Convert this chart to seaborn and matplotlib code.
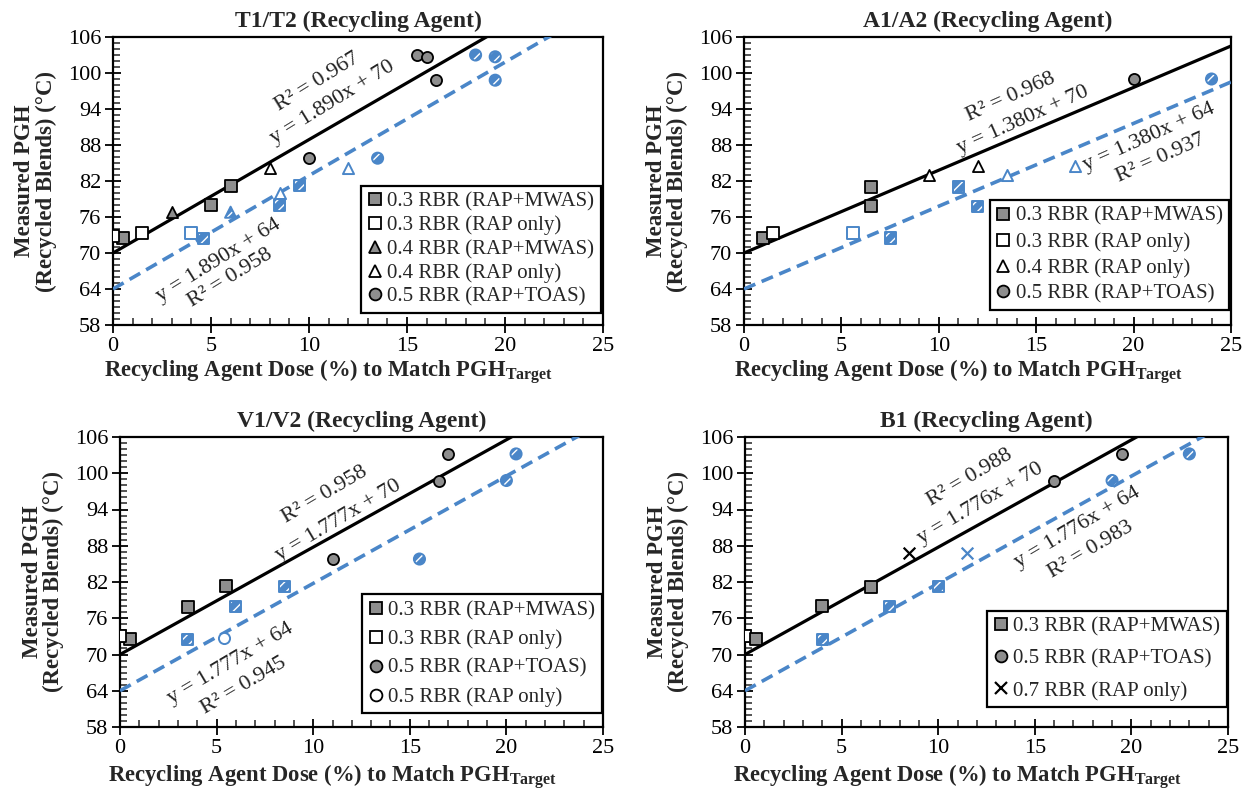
import numpy as np
import pandas as pd
import seaborn as sns
import matplotlib.pyplot as plt
from matplotlib.lines import Line2D
from matplotlib.ticker import MultipleLocator

sns.set_theme(style="white")
plt.rcParams["font.family"] = ["Liberation Serif", "DejaVu Serif"]
plt.rcParams["mathtext.fontset"] = "custom"
plt.rcParams["mathtext.rm"] = "Liberation Serif"
plt.rcParams["mathtext.bf"] = "Liberation Serif:bold"
plt.rcParams["mathtext.it"] = "Liberation Serif:italic"
plt.rcParams["hatch.linewidth"] = 1.0

BLUE = "#4a86c8"
GRAY = "#8e8e8e"

# ---------------- data ----------------
titles = ["T1/T2 (Recycling Agent)", "A1/A2 (Recycling Agent)",
          "V1/V2 (Recycling Agent)", "B1 (Recycling Agent)"]
slopes = [1.890, 1.380, 1.777, 1.776]
intercept_black = 70
intercept_blue = 64
r2_black = ["0.967", "0.968", "0.958", "0.988"]
r2_blue = ["0.958", "0.937", "0.945", "0.983"]
x_ticks = [0, 5, 10, 15, 20, 25]
y_ticks = [58, 64, 70, 76, 82, 88, 94, 100, 106]

# black (measured vs dose) and blue (shifted) series per panel
t1_black = {
    "0.3 RBR (RAP+MWAS)": ([0.5, 5.0, 6.0], [72.5, 78.0, 81.2]),
    "0.3 RBR (RAP only)": ([0.0, 1.5], [72.8, 73.4]),
    "0.4 RBR (RAP+MWAS)": ([3.0], [76.8]),
    "0.4 RBR (RAP only)": ([8.0], [84.2]),
    "0.5 RBR (RAP+TOAS)": ([10.0, 15.5, 16.0, 16.5], [85.8, 103.0, 102.7, 98.8]),
}
t1_blue = {
    "0.3 RBR (RAP+MWAS)": ([4.6, 8.5, 9.5], [72.4, 78.0, 81.2]),
    "0.3 RBR (RAP only)": ([4.0], [73.4]),
    "0.4 RBR (RAP+MWAS)": ([6.0], [76.8]),
    "0.4 RBR (RAP only)": ([8.5, 12.0], [80.0, 84.2]),
    "0.5 RBR (RAP+TOAS)": ([13.5, 18.5, 19.5, 19.5], [85.8, 103.0, 102.7, 98.8]),
}
a1_black = {
    "0.3 RBR (RAP+MWAS)": ([1.0, 6.5, 6.5], [72.5, 81.0, 77.8]),
    "0.3 RBR (RAP only)": ([1.5], [73.3]),
    "0.4 RBR (RAP only)": ([9.5, 12.0], [83.0, 84.5]),
    "0.5 RBR (RAP+TOAS)": ([20.0], [99.0]),
}
a1_blue = {
    "0.3 RBR (RAP+MWAS)": ([7.5, 11.0, 12.0], [72.5, 81.0, 77.8]),
    "0.3 RBR (RAP only)": ([5.6], [73.3]),
    "0.4 RBR (RAP only)": ([13.5, 17.0], [83.0, 84.5]),
    "0.5 RBR (RAP+TOAS)": ([24.0], [99.0]),
}
v1_black = {
    "0.3 RBR (RAP+MWAS)": ([0.5, 3.5, 5.5], [72.5, 77.9, 81.3]),
    "0.3 RBR (RAP only)": ([0.0], [73.0]),
    "0.5 RBR (RAP+TOAS)": ([11.0, 16.5, 17.0], [85.8, 98.8, 103.2]),
    "0.5 RBR (RAP only)": ([], []),
}
v1_blue = {
    "0.3 RBR (RAP+MWAS)": ([3.5, 6.0, 8.5], [72.5, 77.9, 81.3]),
    "0.3 RBR (RAP only)": ([], []),
    "0.5 RBR (RAP+TOAS)": ([15.5, 20.0, 20.5], [85.8, 98.8, 103.2]),
    "0.5 RBR (RAP only)": ([5.4], [72.7]),
}
b1_black = {
    "0.3 RBR (RAP+MWAS)": ([0.55, 4.0, 6.5], [72.5, 78.0, 81.2]),
    "0.5 RBR (RAP+TOAS)": ([16.0, 19.5], [98.8, 103.2]),
    "0.7 RBR (RAP only)": ([8.5], [86.8]),
}
b1_extra_open = ([0.0], [73.0])
b1_blue = {
    "0.3 RBR (RAP+MWAS)": ([4.0, 7.5, 10.0], [72.5, 78.0, 81.2]),
    "0.5 RBR (RAP+TOAS)": ([19.0, 23.0], [98.8, 103.2]),
    "0.7 RBR (RAP only)": ([11.5], [86.8]),
}

STYLE = {
    "0.3 RBR (RAP+MWAS)": ("s", True),
    "0.3 RBR (RAP only)": ("s", False),
    "0.4 RBR (RAP+MWAS)": ("^", True),
    "0.4 RBR (RAP only)": ("^", False),
    "0.5 RBR (RAP+TOAS)": ("o", True),
    "0.5 RBR (RAP only)": ("o", False),
    "0.7 RBR (RAP only)": ("x", None),
}

# annotation positions (data coords): black R2, black eq, blue eq, blue R2
ann_pos = [
    [(10.4, 98.5), (11.2, 95.0), (5.4, 68.7), (6.0, 65.8)],
    [(13.7, 96.0), (14.3, 92.2), (20.8, 89.3), (21.4, 85.8)],
    [(10.6, 96.5), (11.3, 92.2), (5.7, 68.5), (6.4, 64.8)],
    [(11.65, 99.3), (12.2, 95.0), (17.2, 91.0), (17.9, 87.3)],
]
legend_anchor = [(0.995, 0.042), (0.996, 0.052), (0.997, 0.048), (0.997, 0.069)]
legend_spacing = [0.2, 0.3, 0.44, 0.6]
xlabel_y = [-0.112, -0.112, -0.12, -0.12]

W, H = 1251, 796
rects_px = [(113, 37, 603, 325), (744, 37, 1231, 325),
            (120, 437, 603, 727), (745, 437, 1228, 727)]

fig = plt.figure(figsize=(W / 100, H / 100), dpi=100)

S = 64


def draw_points(ax, x, y, marker, filled, blue):
    if len(x) == 0:
        return
    df = pd.DataFrame({"x": x, "y": y})
    if marker == "x":
        sns.scatterplot(data=df, x="x", y="y", ax=ax, marker="x", s=S * 1.1,
                        color=BLUE if blue else "black", linewidth=1.6,
                        legend=False, zorder=4)
        return
    if not blue:
        sns.scatterplot(data=df, x="x", y="y", ax=ax, marker=marker, s=S,
                        color=GRAY if filled else "white", edgecolor="black",
                        linewidth=1.3, legend=False, zorder=4)
    else:
        if filled:
            sns.scatterplot(data=df, x="x", y="y", ax=ax, marker=marker, s=S,
                            color=BLUE, edgecolor="white", hatch="///",
                            linewidth=0.0, legend=False, zorder=4)
            sns.scatterplot(data=df, x="x", y="y", ax=ax, marker=marker, s=S,
                            color="none", edgecolor=BLUE, linewidth=1.4,
                            legend=False, zorder=5)
        else:
            sns.scatterplot(data=df, x="x", y="y", ax=ax, marker=marker, s=S,
                            color="white", edgecolor=BLUE, linewidth=1.4,
                            legend=False, zorder=4)


panels = [(t1_black, t1_blue), (a1_black, a1_blue),
          (v1_black, v1_blue), (b1_black, b1_blue)]

for i, (blk, blu) in enumerate(panels):
    l, t, r, b = rects_px[i]
    ax = fig.add_axes([l / W, 1 - b / H, (r - l) / W, (b - t) / H])
    ax.set_xlim(0, 25)
    ax.set_ylim(58, 106)

    xs = np.array([0.0, 25.0])
    sns.lineplot(x=xs, y=slopes[i] * xs + intercept_black, ax=ax,
                 color="black", linewidth=2.3, legend=False, zorder=3)
    sns.lineplot(x=xs, y=slopes[i] * xs + intercept_blue, ax=ax,
                 color=BLUE, linewidth=2.6, legend=False, zorder=3)
    ax.lines[-1].set_linestyle((0, (3.4, 1.9)))

    if i == 3:
        draw_points(ax, *b1_extra_open, "s", False, False)
    for lab, (x, y) in blu.items():
        mk, fl = STYLE[lab]
        draw_points(ax, x, y, mk, fl, True)
    for lab, (x, y) in blk.items():
        mk, fl = STYLE[lab]
        draw_points(ax, x, y, mk, fl, False)

    ang = np.degrees(np.arctan(slopes[i]))
    texts = [f"R\u00b2 = {r2_black[i]}", f"y = {slopes[i]:.3f}x + {intercept_black}",
             f"y = {slopes[i]:.3f}x + {intercept_blue}", f"R\u00b2 = {r2_blue[i]}"]
    for (tx, ty), s in zip(ann_pos[i], texts):
        ax.text(tx, ty, s, rotation=ang + 1.5, rotation_mode="anchor",
                transform_rotates_text=True, ha="center", va="center",
                fontsize=16, color="#222222", zorder=6)

    # legend
    handles = []
    for lab in blk.keys():
        mk, fl = STYLE[lab]
        if mk == "x":
            h = Line2D([], [], marker="x", linestyle="none", color="black",
                       markersize=9, markeredgewidth=1.6, label=lab)
        else:
            h = Line2D([], [], marker=mk, linestyle="none",
                       markerfacecolor=GRAY if fl else "white",
                       markeredgecolor="black", markersize=8.5,
                       markeredgewidth=1.3, label=lab)
        handles.append(h)
    leg = ax.legend(handles=handles, loc="lower right",
                    bbox_to_anchor=legend_anchor[i], fontsize=15,
                    frameon=True, fancybox=False, framealpha=1,
                    edgecolor="black", handlelength=0.7, handletextpad=0.25,
                    borderpad=0.3, labelspacing=legend_spacing[i],
                    borderaxespad=0)
    leg.get_frame().set_linewidth(1.6)
    leg.set_zorder(7)

    ax.set_xticks(x_ticks)
    ax.set_yticks(y_ticks)
    ax.xaxis.set_minor_locator(MultipleLocator(1))
    ax.yaxis.set_minor_locator(MultipleLocator(1))
    ax.tick_params(which="major", direction="inout", length=11, width=1.3,
                   labelsize=16, colors="black", bottom=True, left=True,
                   top=False, right=False, pad=3)
    ax.tick_params(which="minor", direction="in", length=5, width=1.1,
                   bottom=True, left=True, top=False, right=False)
    for sp in ax.spines.values():
        sp.set_color("black")
        sp.set_linewidth(1.6)

    ax.set_title(titles[i], fontsize=17, fontweight="bold", pad=7)
    ax.set_xlabel(r"Recycling Agent Dose (%) to Match PGH$_{\mathbf{Target}}$",
                  fontsize=16.3, fontweight="bold")
    ax.xaxis.set_label_coords(0.44, xlabel_y[i])
    ax.set_ylabel("Measured PGH\n(Recycled Blends) (\u00b0C)", fontsize=16.5,
                  fontweight="bold", linespacing=1.0)
    ax.yaxis.set_label_coords(-0.115, 0.5)

fig.savefig("out.png", dpi=100)
